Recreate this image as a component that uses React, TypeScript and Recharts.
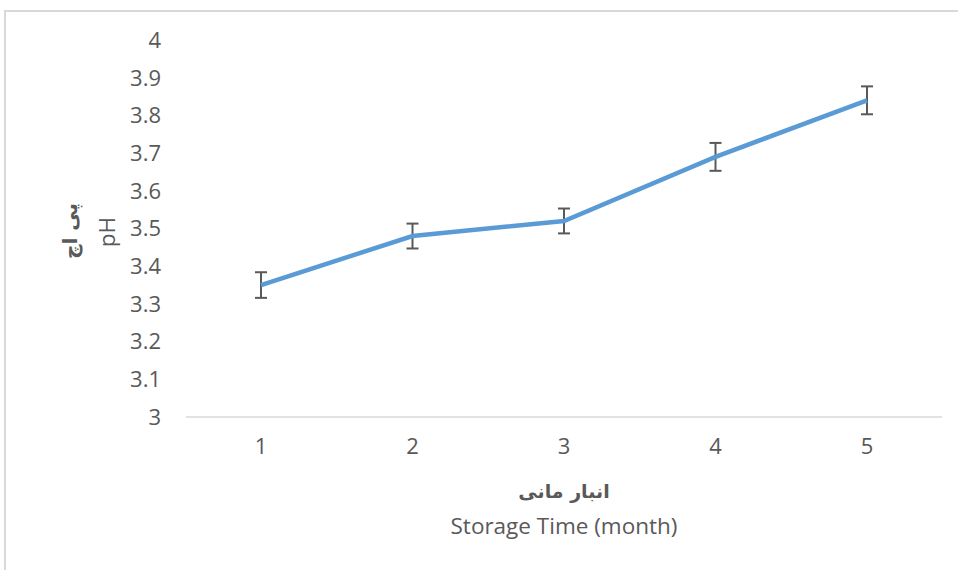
import * as React from "react";
import { LineChart, Line, XAxis, YAxis, ErrorBar } from "recharts";

// storage months on the x axis
const months = ["1", "2", "3", "4", "5"];
// pH means and their error (± half bar height)
const phValues = [3.35, 3.48, 3.52, 3.69, 3.84];
const phErrors = [0.034, 0.033, 0.033, 0.037, 0.037];
const yTicks = [3, 3.1, 3.2, 3.3, 3.4, 3.5, 3.6, 3.7, 3.8, 3.9, 4];

const FONT = '"Open Sans", "Segoe UI", "DejaVu Sans", sans-serif';
const TEXT = "#595959";

const data = months.map((m, i) => ({ month: m, ph: phValues[i], err: phErrors[i] }));

const XTitle = (props: any) => {
  const vb = props.viewBox || {};
  const cx = vb.x + vb.width / 2;
  return (
    <g>
      <text x={cx} y={498} textAnchor="middle" fill={TEXT} fontFamily='"DejaVu Sans", sans-serif' fontWeight="bold" fontSize={19} direction="rtl">
        انبار مانی
      </text>
      <text x={cx} y={534} textAnchor="middle" fill={TEXT} fontFamily={FONT} fontSize={22.5}>
        Storage Time (month)
      </text>
    </g>
  );
};

const YTitle = () => (
  <g>
    <text x={0} y={0} transform="translate(77, 231) rotate(-90)" textAnchor="middle" fill={TEXT} fontFamily='"DejaVu Sans", sans-serif' fontWeight="bold" fontSize={20} direction="rtl">
      پی اچ
    </text>
    <text x={0} y={0} transform="translate(115, 232) rotate(-90)" textAnchor="middle" fill={TEXT} fontFamily={FONT} fontSize={22.5}>
      pH
    </text>
  </g>
);

export default function App() {
  return (
    <div style={{ position: "absolute", left: 0, top: 0, width: 958, height: 570, background: "#fff", overflow: "hidden" }}>
      {/* chart frame, only left and top edges show */}
      <div
        style={{
          position: "absolute",
          left: 4,
          top: 10,
          width: 970,
          height: 580,
          borderLeft: "2px solid #d9d9d9",
          borderTop: "2px solid #d9d9d9",
        }}
      />
      <div style={{ position: "absolute", left: 0, top: 0 }}>
        <LineChart width={958} height={570} data={data} margin={{ top: 40, right: 16, bottom: 0, left: 0 }}>
          <XAxis
            dataKey="month"
            padding={{ left: 75, right: 75 }}
            axisLine={{ stroke: "#d9d9d9", strokeWidth: 1.5 }}
            tickLine={false}
            tickSize={0}
            tickMargin={21}
            tick={{ fill: TEXT, fontSize: 22, fontFamily: FONT }}
            height={153}
            label={<XTitle />}
          />
          <YAxis
            type="number"
            domain={[3, 4]}
            ticks={yTicks}
            interval={0}
            width={186}
            axisLine={false}
            tickLine={false}
            tickSize={0}
            tickMargin={25}
            tick={{ fill: TEXT, fontSize: 22, fontFamily: FONT }}
            label={<YTitle />}
          />
          <Line
            type="linear"
            dataKey="ph"
            stroke="#5b9bd5"
            strokeWidth={4.5}
            dot={false}
            activeDot={false}
            isAnimationActive={false}
          >
            <ErrorBar dataKey="err" direction="y" width={6} stroke="#595959" strokeWidth={2} isAnimationActive={false} />
          </Line>
        </LineChart>
      </div>
    </div>
  );
}
